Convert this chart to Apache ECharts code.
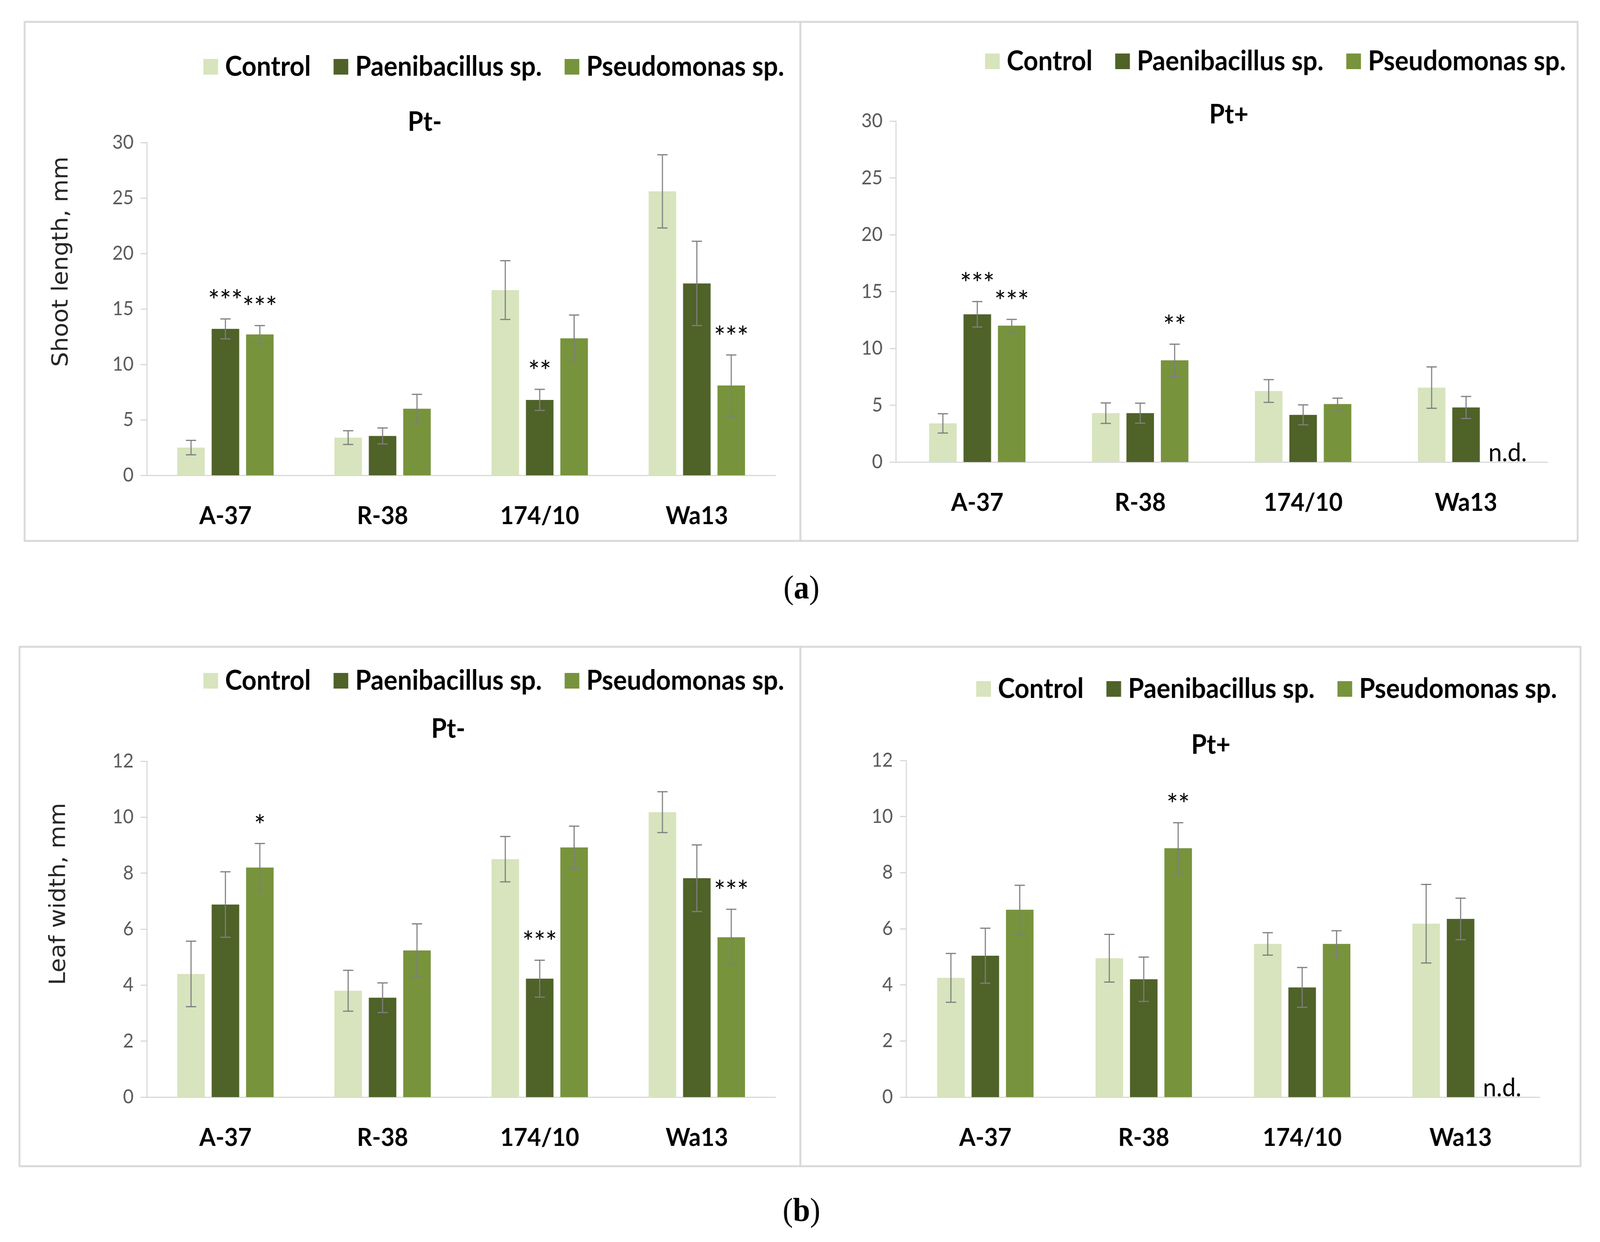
<!DOCTYPE html>
<html><head><meta charset="utf-8">
<script src="https://cdn.jsdelivr.net/npm/echarts@6/dist/echarts.min.js"></script>
<style>html,body{margin:0;padding:0;background:#fff;overflow:hidden}#c{width:4358px;height:3180px;transform-origin:0 0}</style>
</head><body><div id="c"></div>
<script>
// ---------- DATA ----------
const categories = ['A-37', 'R-38', '174/10', 'Wa13'];
const seriesNames = ['Control', 'Paenibacillus sp.', 'Pseudomonas sp.'];
const panelTitles = ['Pt-', 'Pt+', 'Pt-', 'Pt+'];
const yAxisNames = ['Shoot length, mm', '', 'Leaf width, mm', ''];

// (a) Shoot length, Pt-
const shootMinusControl = [2.5, 3.4, 16.7, 25.6];
const shootMinusControlSD = [0.65, 0.62, 2.65, 3.3];
const shootMinusPaeni = [13.2, 3.55, 6.8, 17.3];
const shootMinusPaeniSD = [0.9, 0.72, 0.95, 3.8];
const shootMinusPseudo = [12.7, 6.0, 12.35, 8.1];
const shootMinusPseudoSD = [0.8, 1.3, 2.1, 2.75];
const shootMinusSig = [['', '', '', ''], ['***', '', '**', ''], ['***', '', '', '***']];

// (a) Shoot length, Pt+
const shootPlusControl = [3.4, 4.3, 6.25, 6.55];
const shootPlusControlSD = [0.85, 0.9, 1.0, 1.82];
const shootPlusPaeni = [13.0, 4.3, 4.15, 4.8];
const shootPlusPaeniSD = [1.12, 0.88, 0.88, 0.97];
const shootPlusPseudo = [12.0, 8.95, 5.1, null];
const shootPlusPseudoSD = [0.55, 1.42, 0.52, null];
const shootPlusSig = [['', '', '', ''], ['***', '', '', ''], ['***', '**', '', 'n.d.']];

// (b) Leaf width, Pt-
const leafMinusControl = [4.4, 3.8, 8.5, 10.18];
const leafMinusControlSD = [1.17, 0.73, 0.81, 0.73];
const leafMinusPaeni = [6.88, 3.55, 4.23, 7.82];
const leafMinusPaeniSD = [1.17, 0.53, 0.66, 1.19];
const leafMinusPseudo = [8.2, 5.24, 8.92, 5.71];
const leafMinusPseudoSD = [0.86, 0.95, 0.76, 1.0];
const leafMinusSig = [['', '', '', ''], ['', '', '***', ''], ['*', '', '', '***']];

// (b) Leaf width, Pt+
const leafPlusControl = [4.25, 4.95, 5.46, 6.18];
const leafPlusControlSD = [0.87, 0.85, 0.4, 1.4];
const leafPlusPaeni = [5.04, 4.2, 3.91, 6.35];
const leafPlusPaeniSD = [0.98, 0.79, 0.71, 0.74];
const leafPlusPseudo = [6.68, 8.87, 5.46, null];
const leafPlusPseudoSD = [0.87, 0.91, 0.47, null];
const leafPlusSig = [['', '', '', ''], ['', '', '', ''], ['', '**', '', 'n.d.']];

const yMaxes = [30, 30, 12, 12];
const yIntervals = [5, 5, 2, 2];

// ---------- STYLE / LAYOUT ----------
const colors = ['#d7e4bd', '#4f6228', '#77933c'];
const BAR_W = 75, BAR_GAP = 0.25, PITCH = BAR_W * (1 + BAR_GAP);
const layout = [
  {left: 400, top: 365, width: 1712, height: 852, legendX: 554, legendY: 168, titleX: 1157, titleY: 313, yNameX: 168, yNameY: 670, box: [67, 56, 2180, 1385]},
  {left: 2440, top: 310, width: 1775, height: 873, legendX: 2683, legendY: 154, titleX: 3347, titleY: 294, box: [2180, 56, 4297, 1385]},
  {left: 400, top: 1949, width: 1712, height: 860, legendX: 554, legendY: 1740, titleX: 1221, titleY: 1867, yNameX: 161, yNameY: 2289, box: [53, 1656, 2180, 2986]},
  {left: 2468, top: 1947, width: 1726, height: 862, legendX: 2659, legendY: 1761, titleX: 3298, titleY: 1908, box: [2180, 1656, 4305, 2986]}
];

const panelData = [
  {means: [shootMinusControl, shootMinusPaeni, shootMinusPseudo], sds: [shootMinusControlSD, shootMinusPaeniSD, shootMinusPseudoSD], sig: shootMinusSig},
  {means: [shootPlusControl, shootPlusPaeni, shootPlusPseudo], sds: [shootPlusControlSD, shootPlusPaeniSD, shootPlusPseudoSD], sig: shootPlusSig},
  {means: [leafMinusControl, leafMinusPaeni, leafMinusPseudo], sds: [leafMinusControlSD, leafMinusPaeniSD, leafMinusPseudoSD], sig: leafMinusSig},
  {means: [leafPlusControl, leafPlusPaeni, leafPlusPseudo], sds: [leafPlusControlSD, leafPlusPaeniSD, leafPlusPseudoSD], sig: leafPlusSig}
];

const axisGrey = '#d9d9d9';
const grids = [], xAxes = [], yAxes = [], legends = [], series = [], graphics = [];

layout.forEach((L, p) => {
  grids.push({left: L.left, top: L.top, width: L.width, height: L.height, containLabel: false, outerBoundsMode: 'none'});
  xAxes.push({
    type: 'category', gridIndex: p, data: categories,
    axisLine: {show: true, lineStyle: {color: axisGrey, width: 3}},
    axisTick: {show: false},
    axisLabel: {margin: 72, fontFamily: 'Lato', fontWeight: 'bold', fontSize: 64, color: '#000', lineHeight: 64}
  });
  yAxes.push({
    type: 'value', gridIndex: p, min: 0, max: yMaxes[p], interval: yIntervals[p],
    axisLine: {show: true, lineStyle: {color: axisGrey, width: 3}},
    axisTick: {show: true, length: 17, lineStyle: {color: axisGrey, width: 3}},
    splitLine: {show: false},
    axisLabel: {margin: 36, fontFamily: 'Lato', fontSize: 50, color: '#595959'}
  });
  legends.push({
    left: L.legendX, top: L.legendY - 32, padding: 0, orient: 'horizontal',
    data: seriesNames, icon: 'rect', itemWidth: 40, itemHeight: 40, itemGap: 62,
    textStyle: {fontFamily: 'Lato', fontWeight: 'bold', fontSize: 70, color: '#000', lineHeight: 40, padding: [0, 0, 0, 14]},
    selectedMode: false
  });
  const D = panelData[p];
  D.means.forEach((m, s) => {
    series.push({
      type: 'bar', name: seriesNames[s], xAxisIndex: p, yAxisIndex: p, data: m,
      barWidth: BAR_W, barGap: (BAR_GAP * 100) + '%',
      itemStyle: {color: colors[s]}, silent: true, animation: false
    });
  });
  const items = [], info = [];
  for (let s = 0; s < 3; s++) {
    for (let c = 0; c < categories.length; c++) {
      items.push([c, 0]);
      info.push({s: s, mean: D.means[s][c], sd: D.sds[s][c], sig: D.sig[s][c]});
    }
  }
  series.push({
    type: 'custom', xAxisIndex: p, yAxisIndex: p, data: items, z: 10, clip: false, silent: true, animation: false,
    renderItem: function (params, api) {
      const it = info[params.dataIndex];
      const base = api.coord([api.value(0), 0]);
      const x = base[0] + (it.s - 1) * PITCH;
      const ch = [];
      if (it.mean == null) {
        if (it.sig) ch.push({type: 'text', x: x - 33, y: base[1] + 10,
          style: {text: it.sig, fontFamily: 'Lato', fontSize: 66, fill: '#000', align: 'left', verticalAlign: 'bottom', textAlign: 'left', textVerticalAlign: 'bottom'}});
        return {type: 'group', children: ch};
      }
      const yTop = api.coord([api.value(0), it.mean + it.sd])[1];
      const yBot = api.coord([api.value(0), it.mean - it.sd])[1];
      const ls = {stroke: '#7f7f7f', lineWidth: 3};
      ch.push({type: 'line', shape: {x1: x, y1: yTop, x2: x, y2: yBot}, style: ls});
      ch.push({type: 'line', shape: {x1: x - 14, y1: yTop, x2: x + 14, y2: yTop}, style: ls});
      ch.push({type: 'line', shape: {x1: x - 14, y1: yBot, x2: x + 14, y2: yBot}, style: ls});
      if (it.sig) ch.push({type: 'text', x: x, y: yTop - 44,
        style: {text: it.sig, fontFamily: 'Lato', fontSize: 74, fill: '#000', align: 'center', verticalAlign: 'middle', textAlign: 'center', textVerticalAlign: 'middle'}});
      return {type: 'group', children: ch};
    }
  });
  graphics.push({type: 'rect', silent: true, z: -1,
    shape: {x: L.box[0], y: L.box[1], width: L.box[2] - L.box[0], height: L.box[3] - L.box[1]},
    style: {fill: null, stroke: axisGrey, lineWidth: 5}});
  graphics.push({type: 'text', x: L.titleX, y: L.titleY, silent: true,
    style: {text: panelTitles[p], fontFamily: 'Lato', fontWeight: 'bold', fontSize: 68, fill: '#000', align: 'center', verticalAlign: 'middle', textAlign: 'center', textVerticalAlign: 'middle'}});
  if (yAxisNames[p]) {
    graphics.push({type: 'text', x: L.yNameX, y: L.yNameY, rotation: Math.PI / 2, silent: true,
      style: {text: yAxisNames[p], fontFamily: 'DejaVu Sans', fontSize: 60, fill: '#262626', align: 'center', verticalAlign: 'middle', textAlign: 'center', textVerticalAlign: 'middle'}});
  }
});

[['a', 2183, 1510], ['b', 2183, 3104]].forEach(([t, x, y]) => {
  graphics.push({type: 'text', x: x, y: y, silent: true,
    style: {text: '({b|' + t + '})', fontFamily: 'Liberation Serif', fontSize: 84, fill: '#000', align: 'center', verticalAlign: 'middle', textAlign: 'center', textVerticalAlign: 'middle',
      rich: {b: {fontFamily: 'Liberation Serif', fontWeight: 'bold', fontSize: 84, fill: '#000'}}}});
});

// map the 4358x3180 design onto the whole viewport (the browser caps its width)
const el = document.getElementById('c');
const SX = window.innerWidth / 4358, SY = window.innerHeight / 3180;
el.style.transform = 'scale(' + SX + ',' + SY + ')';

const chart = echarts.init(el, null, {renderer: 'canvas', width: 4358, height: 3180});
chart.setOption({
  backgroundColor: '#fff', animation: false,
  grid: grids, xAxis: xAxes, yAxis: yAxes, legend: legends, series: series, graphic: graphics
});
</script></body></html>
